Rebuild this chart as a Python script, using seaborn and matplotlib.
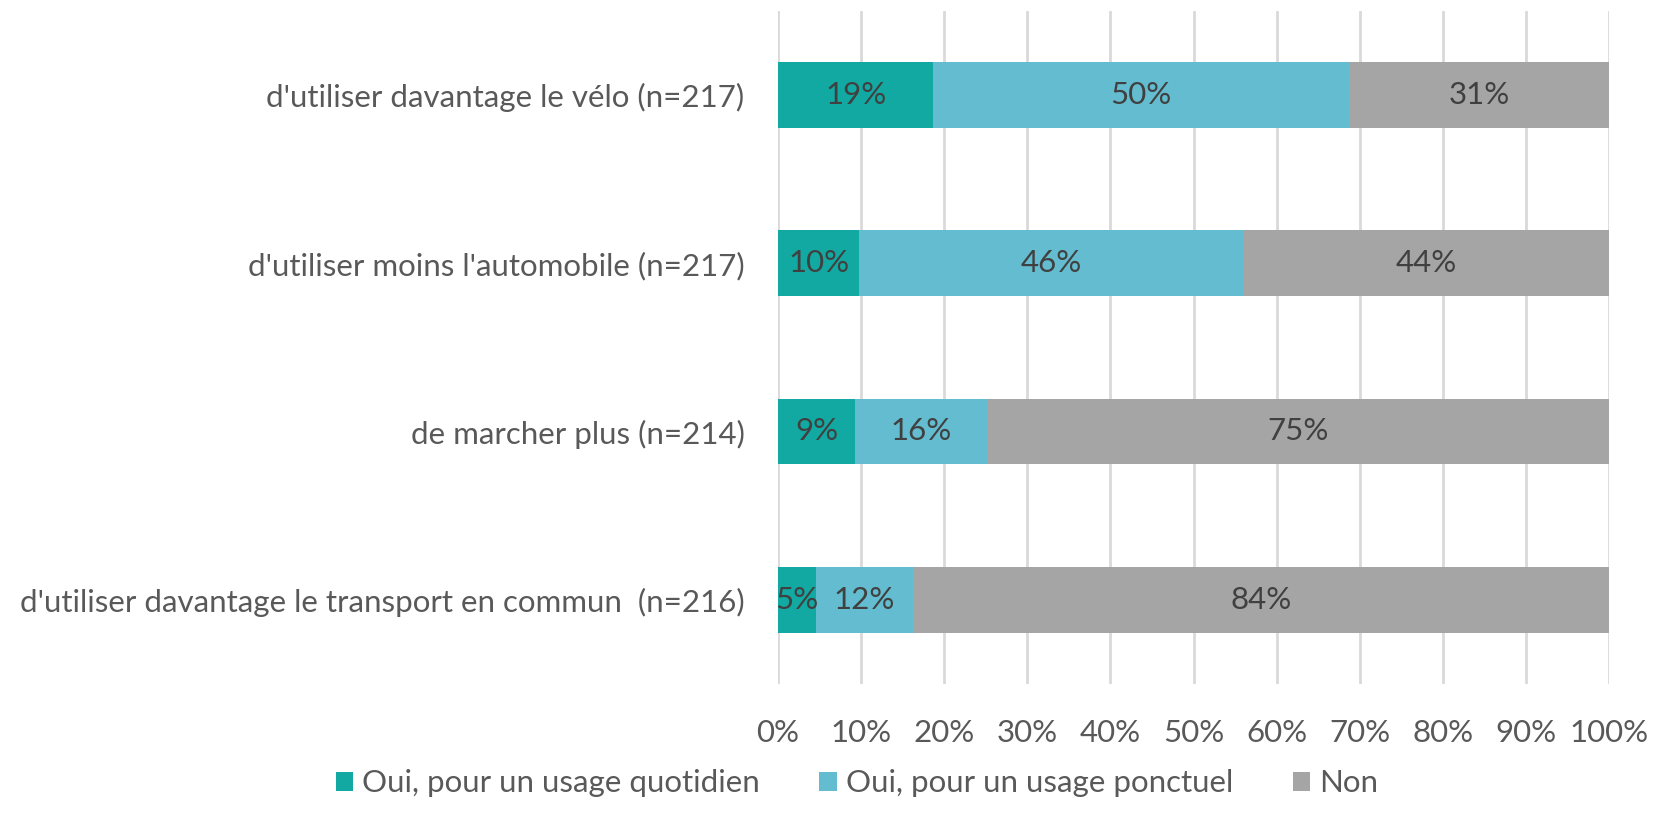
import matplotlib
matplotlib.use("Agg")
import matplotlib.pyplot as plt
import seaborn as sns
import pandas as pd
import numpy as np
from matplotlib.patches import Patch

categories = [
    "d'utiliser davantage le vélo (n=217)",
    "d'utiliser moins l'automobile (n=217)",
    "de marcher plus (n=214)",
    "d'utiliser davantage le transport en commun  (n=216)",
]
series_names = ["Oui, pour un usage quotidien", "Oui, pour un usage ponctuel", "Non"]
quotidien = [18.7, 9.8, 9.3, 4.6]
ponctuel = [50.0, 46.1, 15.9, 11.6]
non = [31.3, 44.1, 74.8, 83.8]
tick_labels = ["0%", "10%", "20%", "30%", "40%", "50%", "60%", "70%", "80%", "90%", "100%"]

colors = ["#12A9A3", "#63BCCF", "#A5A5A5"]
text_grey = "#595959"

sns.set_theme(style="white")
plt.rcParams["font.family"] = ["Lato", "DejaVu Sans"]

df = pd.DataFrame({"cat": categories, "q": quotidien, "p": ponctuel, "n": non})
df["c1"] = df["q"]
df["c2"] = df["q"] + df["p"]
df["c3"] = df["c2"] + df["n"]

fig = plt.figure(figsize=(16.64, 8.22), dpi=100)
ax = fig.add_axes([0.4675, 0.168, 0.4995, 0.819])

# stacked bars drawn as cumulative layers, widest first
for col, color in zip(["c3", "c2", "c1"], colors[::-1]):
    sns.barplot(data=df, x=col, y="cat", orient="h", color=color,
                width=0.39, saturation=1, linewidth=0, ax=ax, zorder=3)

# value labels at segment centres
for i in range(len(categories)):
    lefts = [0, df["c1"][i], df["c2"][i]]
    vals = [df["q"][i], df["p"][i], df["n"][i]]
    for l, v in zip(lefts, vals):
        ax.text(l + v / 2, i, f"{v:.0f}%", ha="center", va="center",
                fontsize=22.5, color="#404040", zorder=4)

ax.set_xlim(0, 100)
ax.set_ylim(3.5, -0.5)
ax.set_xticks(np.arange(0, 101, 10))
ax.set_xticklabels(tick_labels)
ax.set_xlabel("")
ax.set_ylabel("")
ax.grid(axis="x", color="#D9D9D9", linewidth=2, zorder=0)
ax.grid(axis="y", visible=False)
for s in ax.spines.values():
    s.set_visible(False)
ax.tick_params(axis="x", length=0, labelsize=22.5, labelcolor=text_grey, pad=25)
ax.tick_params(axis="y", length=0, labelsize=22.5, labelcolor=text_grey, pad=24)

handles = [Patch(facecolor=c, edgecolor="none") for c in colors]
fig.legend(handles, series_names, loc="center", bbox_to_anchor=(0.515, 0.047),
           ncol=3, frameon=False, fontsize=22.5, labelcolor=text_grey,
           handlelength=0.55, handleheight=0.55, handletextpad=0.3, columnspacing=1.9)

fig.savefig("out.png", dpi=100)
